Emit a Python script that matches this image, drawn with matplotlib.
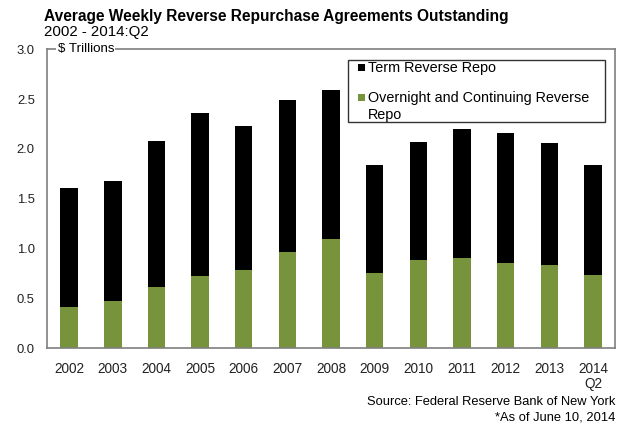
import numpy as np
import matplotlib.pyplot as plt
from matplotlib.patches import Rectangle

plt.rcParams['font.family'] = ['Liberation Sans', 'DejaVu Sans']

years = ['2002', '2003', '2004', '2005', '2006', '2007', '2008',
         '2009', '2010', '2011', '2012', '2013', '2014\nQ2']
# $ trillions
total = [1.61, 1.675, 2.08, 2.36, 2.235, 2.49, 2.595,
         1.835, 2.07, 2.20, 2.157, 2.063, 1.835]
overnight = [0.415, 0.47, 0.62, 0.725, 0.79, 0.97, 1.10,
             0.76, 0.886, 0.906, 0.856, 0.833, 0.735]
term = [t - o for t, o in zip(total, overnight)]

green = '#77933C'
grey = '#7f7f7f'

fig = plt.figure(figsize=(6.23, 4.23), dpi=100)
ax = fig.add_axes([0.0759, 0.1766, 0.9110, 0.7069])

x = np.arange(len(years))
ax.bar(x, overnight, width=0.4, color=green)
ax.bar(x, term, width=0.4, bottom=overnight, color='black')

ax.set_xlim(-0.5, 12.5)
ax.set_ylim(0, 3.0)
ax.set_yticks(np.arange(0, 3.01, 0.5))
ax.set_yticklabels(['%.1f' % v for v in np.arange(0, 3.01, 0.5)])
ax.set_xticks(x)
ax.set_xticklabels(years, linespacing=1.05)
ax.tick_params(axis='y', length=0, pad=9, labelsize=9.4, colors='#222222')
ax.tick_params(axis='x', length=0, pad=10, labelsize=9.8, colors='#222222')
for s in ax.spines.values():
    s.set_color(grey)
    s.set_linewidth(1.2)

# unit label sitting on the top border
ax.text(0.018, 1.0, '$ Trillions', transform=ax.transAxes, fontsize=9.6,
        ha='left', va='center',
        bbox=dict(facecolor='white', edgecolor='none', pad=1.0))

# legend box
fx = lambda px: px / 623
fy = lambda py: 1 - py / 423
fig.patches.append(Rectangle((fx(347.5), fy(122)), fx(605) - fx(347.5), fy(60) - fy(122),
                             transform=fig.transFigure, facecolor='white',
                             edgecolor='#333333', linewidth=1.0))
fig.patches.append(Rectangle((fx(358), fy(71)), fx(365) - fx(358), fy(64) - fy(71),
                             transform=fig.transFigure, facecolor='black', edgecolor='none'))
fig.patches.append(Rectangle((fx(358), fy(101)), fx(365) - fx(358), fy(94) - fy(101),
                             transform=fig.transFigure, facecolor=green, edgecolor='none'))
fig.text(fx(368), fy(68), 'Term Reverse Repo', fontsize=10.4, va='center')
fig.text(fx(368), fy(98), 'Overnight and Continuing Reverse', fontsize=10.4, va='center')
fig.text(fx(368), fy(114.5), 'Repo', fontsize=10.4, va='center')

fig.text(fx(44), fy(16), 'Average Weekly Reverse Repurchase Agreements Outstanding',
         fontsize=11.2, fontweight='bold', va='center')
fig.text(fx(44), fy(32), '2002 - 2014:Q2', fontsize=10.8, va='center')

fig.text(fx(615), fy(402), 'Source: Federal Reserve Bank of New York', fontsize=9.3,
         ha='right', va='center')
fig.text(fx(615), fy(417), '*As of June 10, 2014', fontsize=9.3,
         ha='right', va='center')

fig.savefig('out.png', dpi=100)
